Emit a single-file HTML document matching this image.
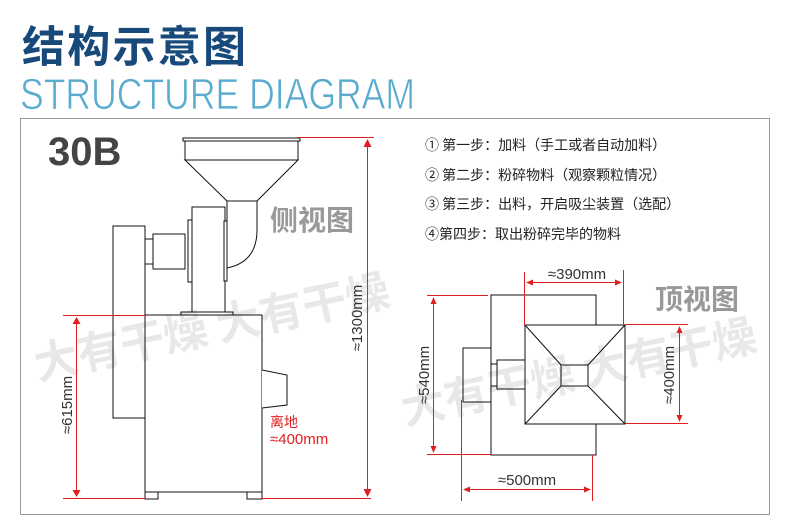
<!DOCTYPE html>
<html><head><meta charset="utf-8"><style>
html,body{margin:0;padding:0;background:#fff;width:790px;height:529px;overflow:hidden}
svg{display:block}
</style></head><body>
<svg width="790" height="529" viewBox="0 0 790 529" xmlns="http://www.w3.org/2000/svg" font-family="Liberation Sans, Noto Sans CJK SC, sans-serif">
<text x="22" y="62" font-size="43" font-weight="bold" fill="#17497a" font-family="Noto Sans CJK SC, sans-serif" textLength="224">结构示意图</text>
<text x="20" y="109" font-size="44" fill="#5aabd0" textLength="395" lengthAdjust="spacingAndGlyphs" stroke="#fff" stroke-width="0.8">STRUCTURE DIAGRAM</text>
<rect x="20.5" y="118.5" width="749" height="396" fill="none" stroke="#999" stroke-width="1"/>
<text x="48" y="165" font-size="40" font-weight="bold" fill="#444">30B</text>
<text x="270" y="230" font-size="28" font-weight="bold" fill="#999" font-family="Noto Sans CJK SC, sans-serif">侧视图</text>
<text x="655" y="309" font-size="28" font-weight="bold" fill="#999" font-family="Noto Sans CJK SC, sans-serif">顶视图</text>
<g font-size="14" fill="#222" font-family="Noto Sans CJK SC, sans-serif">
<text x="425" y="150">① 第一步：加料（手工或者自动加料）</text>
<text x="425" y="180">② 第二步：粉碎物料（观察颗粒情况）</text>
<text x="425" y="209">③ 第三步：出料，开启吸尘装置（选配）</text>
<text x="425" y="239">④第四步：取出粉碎完毕的物料</text>
</g>
<!-- side view -->
<g fill="#fff" stroke="#111" stroke-width="1">
<rect x="113" y="226" width="32" height="192"/>
<rect x="145" y="315" width="117" height="177"/>
<rect x="145" y="492" width="13" height="7"/>
<rect x="247" y="492" width="15" height="7"/>
<rect x="181" y="312" width="52" height="3"/>
<rect x="192" y="207" width="33" height="105"/>
<rect x="188" y="220" width="4" height="62"/>
<rect x="224" y="221" width="3" height="60"/>
<rect x="153" y="234" width="32" height="35"/>
<rect x="145" y="239" width="8" height="25"/>
<path d="M262 370 L287 375 L287 405 L262 408"/>
<path d="M227 201 L227 268 Q257 262 257 230 L257 201 Z"/>
<path d="M185 160 L298 160 L257 201 L227 201 Z"/>
<rect x="185" y="141" width="113" height="19"/>
<rect x="183" y="138" width="117" height="3"/>
</g>
<!-- top view -->
<g fill="#fff" stroke="#111" stroke-width="1">
<rect x="491" y="295" width="105" height="160"/>
<rect x="463" y="348" width="28" height="54"/>
<rect x="491" y="364" width="6" height="22"/>
<rect x="497" y="360" width="28" height="29"/>
<rect x="525" y="325" width="100" height="99"/>
<rect x="561" y="365" width="27" height="21"/>
<path d="M525 325 L561 365 M625 325 L588 365 M525 424 L561 386 M625 424 L588 386"/>
</g>
<!-- watermark -->
<g fill="rgba(0,0,0,0.09)" font-weight="bold" font-size="44" font-family="Noto Sans CJK SC, sans-serif">
<text x="38" y="380" transform="rotate(-12 38 380)">大有干燥 大有干燥</text>
<text x="405" y="425" transform="rotate(-12 405 425)">大有干燥 大有干燥</text>
</g>
<!-- red dims -->
<g stroke="#e02020" stroke-width="1" fill="none">
<line x1="297" y1="137.5" x2="374" y2="137.5"/><line x1="262" y1="498.5" x2="371" y2="498.5"/>
<line x1="367.5" y1="140" x2="367.5" y2="496"/>
<line x1="63" y1="315.5" x2="145" y2="315.5"/><line x1="63" y1="498.5" x2="145" y2="498.5"/>
<line x1="76.5" y1="318" x2="76.5" y2="496"/>
<line x1="427" y1="295.5" x2="488" y2="295.5"/><line x1="427" y1="454.5" x2="491" y2="454.5"/>
<line x1="433.5" y1="298" x2="433.5" y2="452"/>
<line x1="524.5" y1="272" x2="524.5" y2="325"/><line x1="623.5" y1="270" x2="623.5" y2="325"/>
<line x1="527" y1="282.5" x2="621" y2="282.5"/>
<line x1="625" y1="324.5" x2="688" y2="324.5"/><line x1="625" y1="423.5" x2="688" y2="423.5"/>
<line x1="679.5" y1="327" x2="679.5" y2="421"/>
<line x1="461.5" y1="400" x2="461.5" y2="501"/><line x1="592.5" y1="455" x2="592.5" y2="501"/>
<line x1="464" y1="489.5" x2="590" y2="489.5"/>
</g>
<g fill="#e02020">
<path d="M367.5 139 l-4 8 h8z"/><path d="M367.5 497 l-4 -8 h8z"/>
<path d="M76.5 317 l-4 7 h8z"/><path d="M76.5 497 l-4 -7 h8z"/>
<path d="M433.5 297 l-3 7 h6z"/><path d="M433.5 453 l-3 -7 h6z"/>
<path d="M679.5 326 l-3 7 h6z"/><path d="M679.5 422 l-3 -7 h6z"/>
<path d="M526 282.5 l7 -3 v6z"/><path d="M622 282.5 l-7 -3 v6z"/>
<path d="M463 489.5 l7 -3 v6z"/><path d="M591 489.5 l-7 -3 v6z"/>
</g>
<g font-size="15" fill="#333">
<text transform="translate(362 318) rotate(-90)" text-anchor="middle">≈1300mm</text>
<text transform="translate(72 405) rotate(-90)" text-anchor="middle">≈615mm</text>
<text transform="translate(429 375) rotate(-90)" text-anchor="middle">≈540mm</text>
<text transform="translate(674 375) rotate(-90)" text-anchor="middle">≈400mm</text>
<text x="577" y="279" text-anchor="middle">≈390mm</text>
<text x="527" y="485" text-anchor="middle">≈500mm</text>
</g>
<text x="270" y="427" font-size="14" fill="#e02020" font-family="Noto Sans CJK SC, sans-serif">离地</text>
<text x="270" y="444" font-size="15" fill="#e02020">≈400mm</text>
</svg>
</body></html>
